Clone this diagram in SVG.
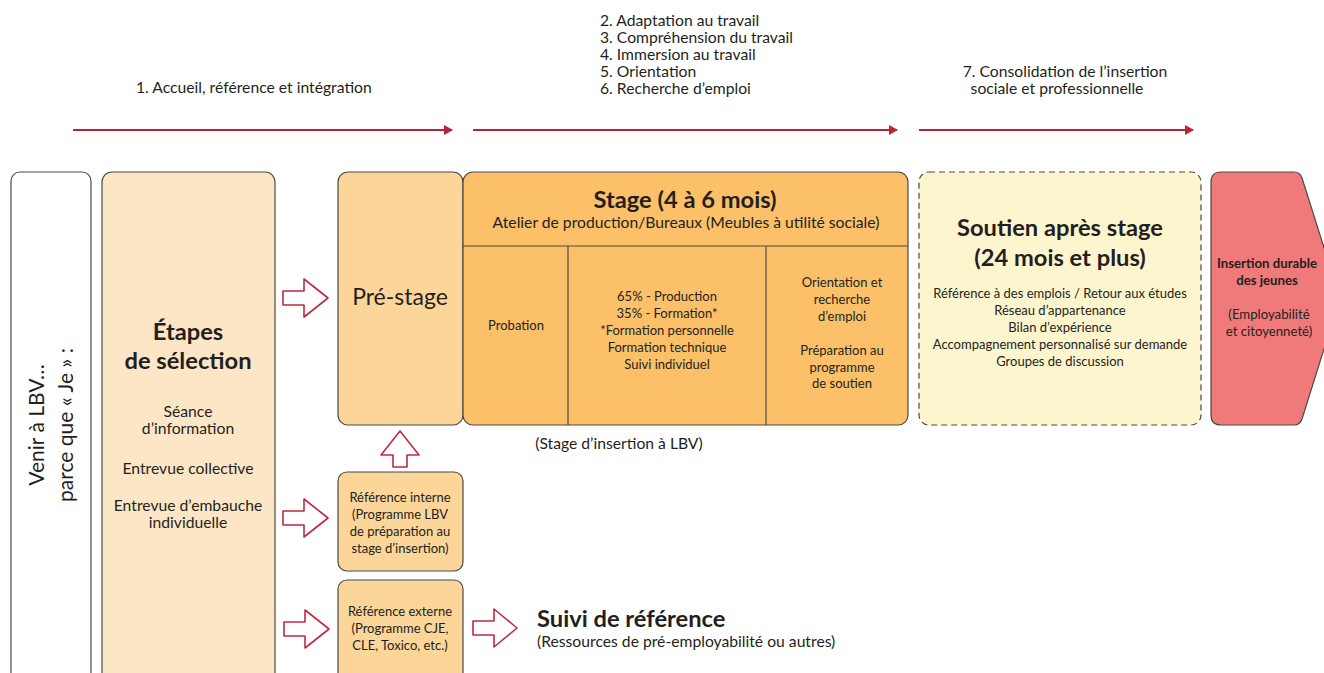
<svg xmlns="http://www.w3.org/2000/svg" width="1324" height="673" viewBox="0 0 1324 673">
<style>
text{font-family:Lato,"Open Sans","Liberation Sans",sans-serif;fill:#231f20}
.box{stroke:#4a4a4a;stroke-width:1.2}
.t15{font-size:15.7px}
.t14{font-size:15.7px}
.t13{font-size:13px}
.t12{font-size:13.2px}
.h{font-size:23.7px;font-weight:bold}
.b{font-weight:bold}
.m{text-anchor:middle}
.flow{stroke:#b9233a;stroke-width:2;fill:none}
.hol{fill:#fff;stroke:#c02a42;stroke-width:1.6;stroke-linejoin:round}
</style>
<defs>
<marker id="ah" markerWidth="10" markerHeight="10" refX="8" refY="5" orient="auto" markerUnits="userSpaceOnUse">
<path d="M0,0 L9,5 L0,10 Z" fill="#b9233a"/>
</marker>
</defs>
<rect width="1324" height="673" fill="#fff"/>

<g id="phases">
<text class="t15" x="136" y="93">1. Accueil, référence et intégration</text>
<text class="t15" x="600" y="26">2. Adaptation au travail</text>
<text class="t15" x="600" y="43">3. Compréhension du travail</text>
<text class="t15" x="600" y="60">4. Immersion au travail</text>
<text class="t15" x="600" y="77">5. Orientation</text>
<text class="t15" x="600" y="94">6. Recherche d’emploi</text>
<text class="t15 m" x="1065" y="77">7. Consolidation de l’insertion</text>
<text class="t15 m" x="1057" y="94">sociale et professionnelle</text>
</g>

<g id="venir">
<rect class="box" x="11" y="172" width="80" height="520" rx="9" fill="#fff"/>
<text class="m" font-size="21" transform="translate(44,425) rotate(-90)">Venir à LBV…</text>
<text class="m" font-size="21" transform="translate(73,425) rotate(-90)">parce que « Je » :</text>
</g>

<g id="etapes">
<rect class="box" x="102" y="172" width="173" height="520" rx="10" fill="#fde6c6"/>
<text class="h m" x="188" y="340">Étapes</text>
<text class="h m" x="188" y="369">de sélection</text>
<text class="t15 m" x="188" y="417">Séance</text>
<text class="t15 m" x="188" y="434">d’information</text>
<text class="t15 m" x="188" y="474">Entrevue collective</text>
<text class="t15 m" x="188" y="511">Entrevue d’embauche</text>
<text class="t15 m" x="188" y="528">individuelle</text>
</g>

<g id="prestage">
<rect class="box" x="338" y="172" width="125" height="253" rx="10" fill="#fcd598"/>
<text class="m" font-size="23" x="400" y="305">Pré-stage</text>
</g>

<g id="refinterne">
<rect class="box" x="338" y="472" width="125" height="99" rx="9" fill="#fcd598"/>
<text class="t13 m" x="400" y="502">Référence interne</text>
<text class="t13 m" x="400" y="519">(Programme LBV</text>
<text class="t13 m" x="400" y="536">de préparation au</text>
<text class="t13 m" x="400" y="553">stage d’insertion)</text>
</g>

<g id="refexterne">
<rect class="box" x="338" y="580" width="125" height="110" rx="9" fill="#fcd598"/>
<text class="t13 m" x="400" y="616">Référence externe</text>
<text class="t13 m" x="400" y="633">(Programme CJE,</text>
<text class="t13 m" x="400" y="650">CLE, Toxico, etc.)</text>
</g>

<g id="stage">
<rect class="box" x="463" y="172" width="445" height="253" rx="10" fill="#fbc068"/>
<line class="box" x1="463" y1="246" x2="908" y2="246"/>
<line class="box" x1="568" y1="246" x2="568" y2="425"/>
<line class="box" x1="766" y1="246" x2="766" y2="425"/>
<text class="h m" x="685" y="208">Stage (4 à 6 mois)</text>
<text class="t14 m" x="686" y="228">Atelier de production/Bureaux (Meubles à utilité sociale)</text>
<text class="t13 m" x="516" y="330">Probation</text>
<text class="t13 m" x="667" y="301">65% - Production</text>
<text class="t13 m" x="667" y="318">35% - Formation*</text>
<text class="t13 m" x="667" y="335">*Formation personnelle</text>
<text class="t13 m" x="667" y="352">Formation technique</text>
<text class="t13 m" x="667" y="369">Suivi individuel</text>
<text class="t13 m" x="842" y="287">Orientation et</text>
<text class="t13 m" x="842" y="304">recherche</text>
<text class="t13 m" x="842" y="321">d’emploi</text>
<text class="t13 m" x="842" y="355">Préparation au</text>
<text class="t13 m" x="842" y="372">programme</text>
<text class="t13 m" x="842" y="388">de soutien</text>
<text class="t14 m" x="619" y="449">(Stage d’insertion à LBV)</text>
</g>

<g id="soutien">
<rect class="box" x="919" y="172" width="282" height="253" rx="10" fill="#fcf5cd" stroke-dasharray="6,4"/>
<text class="h m" x="1060" y="236">Soutien après stage</text>
<text class="h m" x="1060" y="266">(24 mois et plus)</text>
<text class="t13 m" x="1060" y="298">Référence à des emplois / Retour aux études</text>
<text class="t13 m" x="1060" y="315">Réseau d’appartenance</text>
<text class="t13 m" x="1060" y="332">Bilan d’expérience</text>
<text class="t13 m" x="1060" y="349">Accompagnement personnalisé sur demande</text>
<text class="t13 m" x="1060" y="366">Groupes de discussion</text>
</g>

<g id="insertion">
<path class="box" d="M1221,172 L1294,172 Q1300,172 1302,178 L1340,298 L1302,419 Q1300,425 1294,425 L1221,425 Q1211,425 1211,415 L1211,182 Q1211,172 1221,172 Z" fill="#f07a7a"/>
<text class="t12 b m" x="1267" y="268">Insertion durable</text>
<text class="t12 b m" x="1267" y="285">des jeunes</text>
<text class="t12 m" x="1269" y="319">(Employabilité</text>
<text class="t12 m" x="1269" y="336">et citoyenneté)</text>
</g>

<g id="suivi">
<text class="h" x="537" y="627">Suivi de référence</text>
<text class="t14" x="537" y="647">(Ressources de pré-employabilité ou autres)</text>
</g>

<g id="connectors">
<line class="flow" x1="73" y1="130" x2="452" y2="130" marker-end="url(#ah)"/>
<line class="flow" x1="473" y1="130" x2="897" y2="130" marker-end="url(#ah)"/>
<line class="flow" x1="919" y1="130" x2="1193" y2="130" marker-end="url(#ah)"/>
<path class="hol" d="M283,291 L304,291 L304,279 L328,298 L304,317 L304,305 L283,305 Z"/>
<path class="hol" d="M283,511 L304,511 L304,499 L328,518 L304,537 L304,525 L283,525 Z"/>
<path class="hol" d="M284,622 L305,622 L305,610 L329,629 L305,648 L305,636 L284,636 Z"/>
<path class="hol" d="M473,621 L494,621 L494,609 L517,628 L494,647 L494,635 L473,635 Z"/>
<path class="hol" d="M393,467 L393,455 L381,455 L400,431 L419,455 L407,455 L407,467 Z"/>
</g>
</svg>
